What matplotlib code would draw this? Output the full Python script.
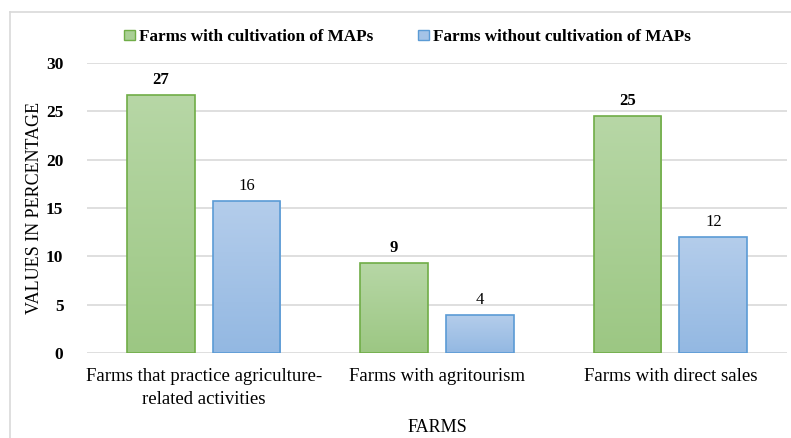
import numpy as np
import matplotlib.pyplot as plt
from matplotlib.colors import LinearSegmentedColormap
from matplotlib.lines import Line2D

categories = ["Farms that practice agriculture-\nrelated activities",
              "Farms with agritourism",
              "Farms with direct sales"]
with_maps = [26.7, 9.3, 24.5]
without_maps = [15.7, 3.9, 12.0]
with_labels = ["27", "9", "25"]
without_labels = ["16", "4", "12"]
series_names = ["Farms with cultivation of MAPs", "Farms without cultivation of MAPs"]

plt.rcParams['font.family'] = ['Liberation Serif', 'DejaVu Serif']

fig = plt.figure(figsize=(7.91, 4.38), dpi=100)
ax = fig.add_axes([0.110, 0.194, 0.885, 0.662])

# outer frame, like the office chart border
fig.add_artist(Line2D([10/791, 1], [1 - 12/438, 1 - 12/438], color="#d9d9d9", lw=1.2))
fig.add_artist(Line2D([10/791, 10/791], [0, 1 - 12/438], color="#d9d9d9", lw=1.2))

x = np.arange(len(categories))
w = 0.29
off = 0.184

green = LinearSegmentedColormap.from_list("g", ["#9cc783", "#b7d7a6"])
blue = LinearSegmentedColormap.from_list("b", ["#93b8e2", "#b4cdeb"])
grad = np.linspace(0, 1, 256).reshape(-1, 1)

def gradient_bars(bars, cmap):
    for b in bars:
        x0, y0 = b.get_xy()
        im = ax.imshow(grad, cmap=cmap, origin="lower", aspect="auto",
                       extent=[x0, x0 + b.get_width(), y0, y0 + b.get_height()],
                       zorder=2)
        im.set_clip_path(b)

b1 = ax.bar(x - off, with_maps, w, facecolor="none", edgecolor="#70ad47", lw=1.2, zorder=3)
b2 = ax.bar(x + off, without_maps, w, facecolor="none", edgecolor="#5b9bd5", lw=1.2, zorder=3)
gradient_bars(b1, green)
gradient_bars(b2, blue)

for b, t in zip(b1, with_labels):
    ax.annotate(t, (b.get_x() + b.get_width() / 2, b.get_height()), xytext=(0, 5),
                textcoords="offset points", ha="center", va="bottom",
                fontsize=12, fontweight="bold")
for b, t in zip(b2, without_labels):
    ax.annotate(t, (b.get_x() + b.get_width() / 2, b.get_height()), xytext=(0, 5),
                textcoords="offset points", ha="center", va="bottom", fontsize=12)

ax.set_xlim(-0.5, 2.5)
ax.set_ylim(0, 30)
ax.set_yticks(range(0, 31, 5))
ax.set_xticks(x)
ax.set_xticklabels(categories, fontsize=13.5, linespacing=1.45)
for lab in ax.get_yticklabels():
    lab.set_fontweight("bold")
    lab.set_fontsize(12.5)
ax.tick_params(axis="both", length=0)
ax.tick_params(axis="y", pad=17)
ax.tick_params(axis="x", pad=11)
ax.grid(axis="y", color="#d9d9d9", lw=1.2, zorder=0)
ax.set_axisbelow(True)
for s in ax.spines.values():
    s.set_visible(False)

ax.set_ylabel("VALUES IN PERCENTAGE", fontsize=13, labelpad=2)
ax.set_xlabel("FARMS", fontsize=13, labelpad=8)

handles = [plt.Rectangle((0, 0), 1, 1, fc="#a9cf95", ec="#70ad47"),
           plt.Rectangle((0, 0), 1, 1, fc="#a4c3e7", ec="#5b9bd5")]
fig.legend(handles, series_names, loc="center", bbox_to_anchor=(407.5/791, 1 - 37/438),
           ncol=2, frameon=False, prop={"weight": "bold", "size": 12.3},
           handlelength=0.6, handleheight=0.6, handletextpad=0.25, columnspacing=2.65)

fig.savefig("out.png", dpi=100)
